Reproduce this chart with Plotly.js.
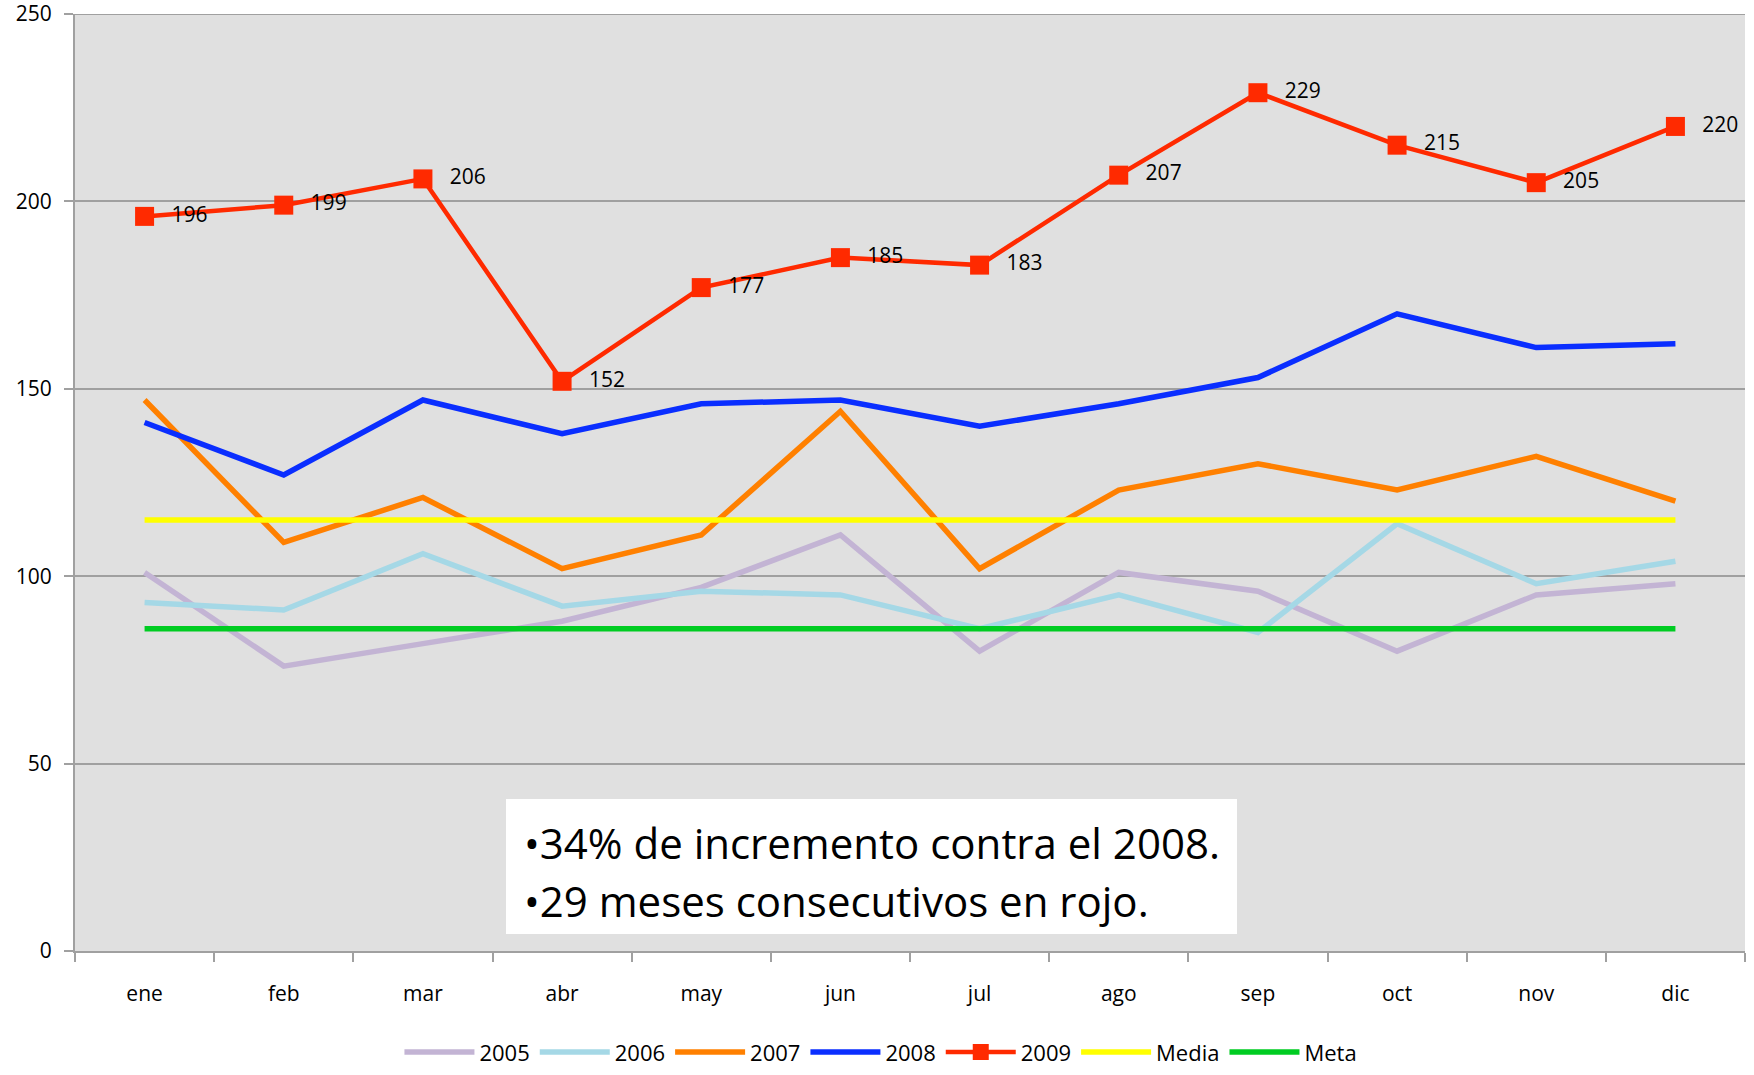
<!DOCTYPE html>
<html>
<head>
<meta charset="utf-8">
<script src="https://cdn.plot.ly/plotly-3.0.1.min.js"></script>
<style>html,body{margin:0;padding:0;background:#fff;}#chart{width:1754px;height:1075px;}</style>
</head>
<body>
<div id="chart"></div>
<script>
var months = ["ene","feb","mar","abr","may","jun","jul","ago","sep","oct","nov","dic"];
var y2005 = [101, 76, 82, 88, 97, 111, 80, 101, 96, 80, 95, 98];
var y2006 = [93, 91, 106, 92, 96, 95, 86, 95, 85, 114, 98, 104];
var y2007 = [147, 109, 121, 102, 111, 144, 102, 123, 130, 123, 132, 120];
var y2008 = [141, 127, 147, 138, 146, 147, 140, 146, 153, 170, 161, 162];
var y2009 = [196, 199, 206, 152, 177, 185, 183, 207, 229, 215, 205, 220];
var media = [115, 115, 115, 115, 115, 115, 115, 115, 115, 115, 115, 115];
var meta  = [86, 86, 86, 86, 86, 86, 86, 86, 86, 86, 86, 86];
var yTicks = [0, 50, 100, 150, 200, 250];
var notes = ["•34% de incremento contra el 2008.", "•29 meses consecutivos en rojo."];

var FONT = "Open Sans, Noto Sans, sans-serif";

function ln(name, y, color, w) {
  return {x: months, y: y, name: name, type: "scatter", mode: "lines",
          line: {color: color, width: w}, hoverinfo: "skip"};
}
var traces = [
  ln("2005", y2005, "#C3B4D4", 5.5),
  ln("2006", y2006, "#A5D8E6", 5.5),
  ln("2007", y2007, "#FF8000", 5.5),
  ln("2008", y2008, "#0A2EFF", 5.5),
  {x: months, y: y2009, name: "2009", type: "scatter", mode: "lines+markers+text",
   line: {color: "#FF2A00", width: 4.5},
   marker: {symbol: "square", size: 19, color: "#FF2A00"},
   text: y2009.map(function (v) { return "\u2002\u2009" + v; }),
   textposition: "middle right",
   textfont: {family: FONT, size: 21, color: "#000"}, cliponaxis: false},
  ln("Media", media, "#FFFF00", 5.5),
  ln("Meta", meta, "#00CC22", 5.5)
];

var layout = {
  width: 1754, height: 1075,
  margin: {l: 75, r: 9, t: 14, b: 124, autoexpand: false},
  paper_bgcolor: "#FFFFFF",
  plot_bgcolor: "#E0E0E0",
  font: {family: FONT, color: "#000"},
  showlegend: true,
  legend: {orientation: "h", x: 0.4826, xanchor: "center", y: -0.108, yanchor: "middle",
           font: {family: FONT, size: 22, color: "#000"}, itemwidth: 70, traceorder: "normal"},
  xaxis: {
    type: "category", range: [-0.5, 11.5], automargin: false,
    showgrid: false, zeroline: false,
    showline: true, linecolor: "#A0A0A0", linewidth: 2,
    ticks: "outside", tickson: "boundaries", ticklen: 9, tickcolor: "#A0A0A0", tickwidth: 2,
    ticklabelstandoff: 23,
    tickfont: {family: FONT, size: 21, color: "#000"}
  },
  yaxis: {
    range: [0, 250], tickmode: "array", tickvals: yTicks, ticktext: yTicks.map(String),
    automargin: false, ticklabeloverflow: "allow",
    showgrid: true, gridcolor: "#A0A0A0", gridwidth: 2,
    zeroline: false,
    showline: true, linecolor: "#A0A0A0", linewidth: 2, mirror: false,
    ticks: "outside", ticklen: 9, tickcolor: "#A0A0A0", tickwidth: 2,
    ticklabelstandoff: 8,
    tickfont: {family: FONT, size: 21, color: "#000"}
  },
  shapes: [
    {type: "line", xref: "paper", yref: "y", x0: 0, x1: 1, y0: 250, y1: 250,
     line: {color: "#A0A0A0", width: 2}, layer: "below"},
    {type: "rect", xref: "paper", yref: "paper",
     x0: (506 - 75) / 1670, x1: (1237 - 75) / 1670,
     y0: (951 - 934) / 937, y1: (951 - 799) / 937,
     fillcolor: "#FFFFFF", line: {width: 0}, layer: "above"}
  ],
  annotations: [
    {xref: "paper", yref: "paper", x: (522 - 75) / 1670, y: (951 - 842) / 937,
     xanchor: "left", yanchor: "middle", text: notes[0], showarrow: false,
     font: {family: FONT, size: 42, color: "#000"}},
    {xref: "paper", yref: "paper", x: (522 - 75) / 1670, y: (951 - 900) / 937,
     xanchor: "left", yanchor: "middle", text: notes[1], showarrow: false,
     font: {family: FONT, size: 42, color: "#000"}}
  ]
};

Plotly.newPlot("chart", traces, layout, {staticPlot: true, displayModeBar: false});
</script>
</body>
</html>
